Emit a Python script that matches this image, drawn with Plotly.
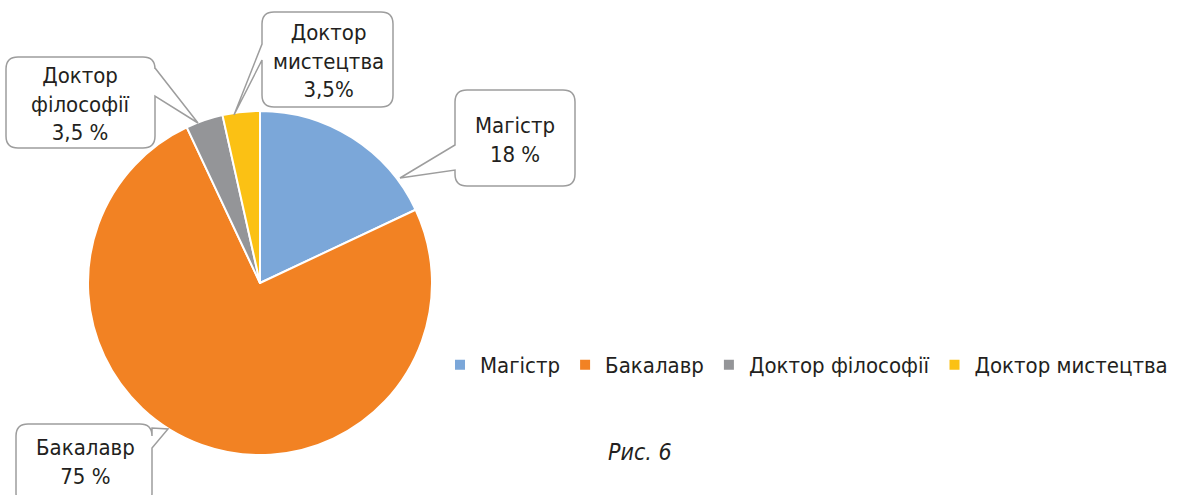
import plotly.graph_objects as go

categories = ["Магістр", "Бакалавр", "Доктор філософії", "Доктор мистецтва"]
values = [18, 75, 3.5, 3.5]
colors = ["#7BA7D9", "#F28223", "#949598", "#FBC114"]
callout_texts = ["Магістр<br>18 %", "Бакалавр<br>75 %", "Доктор<br>філософії<br>3,5 %", "Доктор<br>мистецтва<br>3,5%"]

W, H = 1184, 495
FONT = "DejaVu Sans Condensed, Roboto, sans-serif"
TXT = "#231f20"

fig = go.Figure()
fig.add_trace(go.Pie(
    labels=categories, values=values, sort=False, direction="clockwise", rotation=0,
    marker=dict(colors=colors, line=dict(color="white", width=2)),
    textinfo="none", hoverinfo="label+percent",
    domain=dict(x=[88 / W, 432 / W], y=[1 - 455 / H, 1 - 111 / H]),
    showlegend=True,
))


def callout(x0, y0, x1, y1, side, b0, b1, tip, r=12):
    p = []
    p.append(f"M{x0 + r},{y0}")
    p.append(f"L{x1 - r},{y0} Q{x1},{y0} {x1},{y0 + r}")
    if side == "right":
        p.append(f"L{x1},{b0} L{tip[0]},{tip[1]} L{x1},{b1}")
    p.append(f"L{x1},{y1 - r} Q{x1},{y1} {x1 - r},{y1}")
    p.append(f"L{x0 + r},{y1} Q{x0},{y1} {x0},{y1 - r}")
    if side == "left":
        p.append(f"L{x0},{b1} L{tip[0]},{tip[1]} L{x0},{b0}")
    p.append(f"L{x0},{y0 + r} Q{x0},{y0} {x0 + r},{y0} Z")
    return " ".join(p)


boxes = [
    (455, 90, 575, 186, "left", 145, 170, (400, 178)),
    (16, 424, 152, 505, "right", 428, 448, (168, 429)),
    (6, 57, 155, 148, "right", 68, 96, (198, 123)),
    (262, 12, 393, 107, "left", 44, 60, (234, 115)),
]
centers = [(515, 140), (85, 462), (80, 104), (328, 61)]

for b in boxes:
    fig.add_shape(type="path", path=callout(*b), xref="x", yref="y",
                  line=dict(color="#9d9d9d", width=1.5), fillcolor="white", layer="above")

for (cx, cy), t in zip(centers, callout_texts):
    fig.add_annotation(x=cx, y=cy, xref="x", yref="y", text=t, showarrow=False,
                       font=dict(family=FONT, size=22, color=TXT), align="center")

fig.add_annotation(x=640, y=452, xref="x", yref="y", text="<i>Рис. 6</i>", showarrow=False,
                   font=dict(family=FONT, size=23, color=TXT))

fig.update_layout(
    width=W, height=H, margin=dict(l=0, r=0, t=0, b=0, autoexpand=False),
    paper_bgcolor="white", plot_bgcolor="rgba(0,0,0,0)",
    xaxis=dict(range=[0, W], visible=False, domain=[0, 1], fixedrange=True),
    yaxis=dict(range=[H, 0], visible=False, domain=[0, 1], fixedrange=True),
    legend=dict(orientation="h", x=440 / W, y=1 - 365 / H, xanchor="left", yanchor="middle",
                font=dict(family=FONT, size=22, color=TXT), itemwidth=30,
                bgcolor="rgba(0,0,0,0)"),
    showlegend=True,
)

fig.write_html("out.html", config={"displayModeBar": False},
               post_script="document.body.style.margin='0';document.body.style.overflow='hidden';")
